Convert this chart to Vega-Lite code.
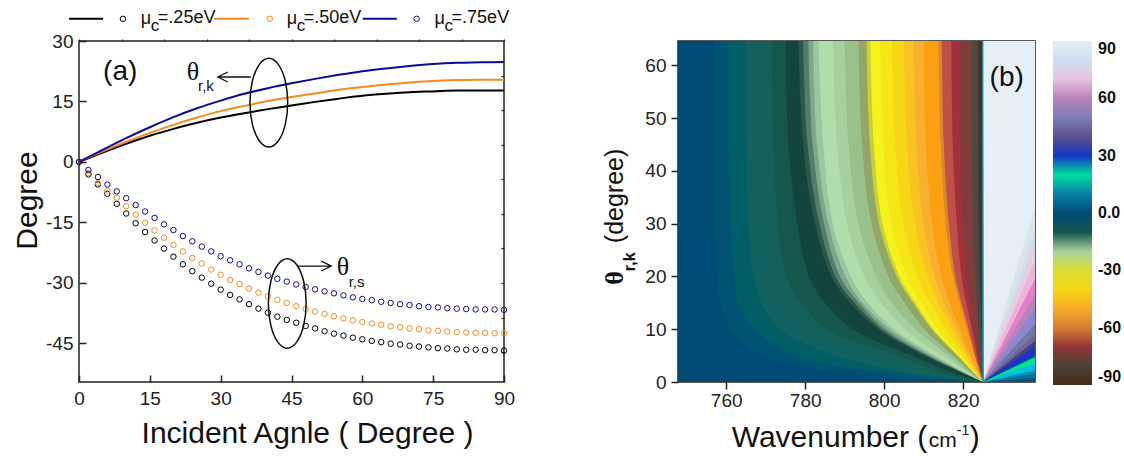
{"$schema":"https://vega.github.io/schema/vega-lite/v6.json","padding":{"left":11,"top":8,"right":0,"bottom":0},"background":"white","config":{"font":"Liberation Sans","view":{"stroke":"#222","strokeWidth":1.5}},"bounds":"flush","spacing":174,
"datasets":{
"lines":[
{"s":"a","x":0,"y":0},{"s":"a","x":5,"y":2.3},{"s":"a","x":10,"y":4.5},{"s":"a","x":15,"y":6.5},{"s":"a","x":20,"y":8.2},{"s":"a","x":25,"y":9.7},{"s":"a","x":30,"y":11},{"s":"a","x":35,"y":12.1},{"s":"a","x":40,"y":13.1},{"s":"a","x":45,"y":14},{"s":"a","x":50,"y":14.9},{"s":"a","x":55,"y":15.7},{"s":"a","x":60,"y":16.4},{"s":"a","x":65,"y":16.9},{"s":"a","x":70,"y":17.3},{"s":"a","x":75,"y":17.5},{"s":"a","x":80,"y":17.7},{"s":"a","x":85,"y":17.7},{"s":"a","x":90,"y":17.7},
{"s":"b","x":0,"y":0},{"s":"b","x":5,"y":2.6},{"s":"b","x":10,"y":5},{"s":"b","x":15,"y":7.2},{"s":"b","x":20,"y":9.2},{"s":"b","x":25,"y":11},{"s":"b","x":30,"y":12.6},{"s":"b","x":35,"y":13.9},{"s":"b","x":40,"y":15.1},{"s":"b","x":45,"y":16.1},{"s":"b","x":50,"y":17},{"s":"b","x":55,"y":17.9},{"s":"b","x":60,"y":18.6},{"s":"b","x":65,"y":19.2},{"s":"b","x":70,"y":19.7},{"s":"b","x":75,"y":20.1},{"s":"b","x":80,"y":20.3},{"s":"b","x":85,"y":20.4},{"s":"b","x":90,"y":20.4},
{"s":"c","x":0,"y":0},{"s":"c","x":5,"y":3},{"s":"c","x":10,"y":5.9},{"s":"c","x":15,"y":8.6},{"s":"c","x":20,"y":11.1},{"s":"c","x":25,"y":13.3},{"s":"c","x":30,"y":15.2},{"s":"c","x":35,"y":16.9},{"s":"c","x":40,"y":18.3},{"s":"c","x":45,"y":19.5},{"s":"c","x":50,"y":20.6},{"s":"c","x":55,"y":21.6},{"s":"c","x":60,"y":22.5},{"s":"c","x":65,"y":23.2},{"s":"c","x":70,"y":23.8},{"s":"c","x":75,"y":24.3},{"s":"c","x":80,"y":24.6},{"s":"c","x":85,"y":24.7},{"s":"c","x":90,"y":24.8}],
"keylines":[{"s":"a","x":-2.1,"y":35.5},{"s":"a","x":5.1,"y":35.5},{"s":"b","x":28.6,"y":35.5},{"s":"b","x":36,"y":35.5},{"s":"c","x":60.1,"y":35.5},{"s":"c","x":67.3,"y":35.5}],
"dots":[
{"s":"a","x":9.3,"y":35.5},{"s":"b","x":40.4,"y":35.5},{"s":"c","x":71.5,"y":35.5},
{"s":"a","x":0,"y":0},{"s":"a","x":2,"y":-3.1},{"s":"a","x":4,"y":-5.6},{"s":"a","x":6,"y":-7.9},{"s":"a","x":8,"y":-10.4},{"s":"a","x":10,"y":-12.8},{"s":"a","x":12,"y":-15.2},{"s":"a","x":14,"y":-17.4},{"s":"a","x":16,"y":-19.5},{"s":"a","x":18,"y":-21.5},{"s":"a","x":20,"y":-23.5},{"s":"a","x":22,"y":-25.4},{"s":"a","x":24,"y":-27.1},{"s":"a","x":26,"y":-28.7},{"s":"a","x":28,"y":-30.2},{"s":"a","x":30,"y":-31.7},{"s":"a","x":32,"y":-33},{"s":"a","x":34,"y":-34.1},{"s":"a","x":36,"y":-35.3},{"s":"a","x":38,"y":-36.4},{"s":"a","x":40,"y":-37.4},{"s":"a","x":42,"y":-38.4},{"s":"a","x":44,"y":-39.2},{"s":"a","x":46,"y":-39.9},{"s":"a","x":48,"y":-40.7},{"s":"a","x":50,"y":-41.3},{"s":"a","x":52,"y":-42},{"s":"a","x":54,"y":-42.6},{"s":"a","x":56,"y":-43.1},{"s":"a","x":58,"y":-43.6},{"s":"a","x":60,"y":-44},{"s":"a","x":62,"y":-44.4},{"s":"a","x":64,"y":-44.7},{"s":"a","x":66,"y":-45.1},{"s":"a","x":68,"y":-45.3},{"s":"a","x":70,"y":-45.6},{"s":"a","x":72,"y":-45.8},{"s":"a","x":74,"y":-46},{"s":"a","x":76,"y":-46.2},{"s":"a","x":78,"y":-46.3},{"s":"a","x":80,"y":-46.5},{"s":"a","x":82,"y":-46.6},{"s":"a","x":84,"y":-46.6},{"s":"a","x":86,"y":-46.7},{"s":"a","x":88,"y":-46.7},{"s":"a","x":90,"y":-46.8},
{"s":"b","x":0,"y":0},{"s":"b","x":2,"y":-2.7},{"s":"b","x":4,"y":-5.2},{"s":"b","x":6,"y":-7.1},{"s":"b","x":8,"y":-8.9},{"s":"b","x":10,"y":-11},{"s":"b","x":12,"y":-13.1},{"s":"b","x":14,"y":-15.1},{"s":"b","x":16,"y":-17},{"s":"b","x":18,"y":-18.8},{"s":"b","x":20,"y":-20.6},{"s":"b","x":22,"y":-22.2},{"s":"b","x":24,"y":-23.8},{"s":"b","x":26,"y":-25.2},{"s":"b","x":28,"y":-26.7},{"s":"b","x":30,"y":-28},{"s":"b","x":32,"y":-29.3},{"s":"b","x":34,"y":-30.3},{"s":"b","x":36,"y":-31.4},{"s":"b","x":38,"y":-32.4},{"s":"b","x":40,"y":-33.4},{"s":"b","x":42,"y":-34.2},{"s":"b","x":44,"y":-35},{"s":"b","x":46,"y":-35.8},{"s":"b","x":48,"y":-36.5},{"s":"b","x":50,"y":-37.1},{"s":"b","x":52,"y":-37.7},{"s":"b","x":54,"y":-38.3},{"s":"b","x":56,"y":-38.8},{"s":"b","x":58,"y":-39.3},{"s":"b","x":60,"y":-39.7},{"s":"b","x":62,"y":-40.1},{"s":"b","x":64,"y":-40.4},{"s":"b","x":66,"y":-40.8},{"s":"b","x":68,"y":-41},{"s":"b","x":70,"y":-41.3},{"s":"b","x":72,"y":-41.5},{"s":"b","x":74,"y":-41.8},{"s":"b","x":76,"y":-41.9},{"s":"b","x":78,"y":-42.1},{"s":"b","x":80,"y":-42.2},{"s":"b","x":82,"y":-42.3},{"s":"b","x":84,"y":-42.4},{"s":"b","x":86,"y":-42.4},{"s":"b","x":88,"y":-42.5},{"s":"b","x":90,"y":-42.5},
{"s":"c","x":0,"y":0},{"s":"c","x":2,"y":-2},{"s":"c","x":4,"y":-3.75},{"s":"c","x":6,"y":-5.6},{"s":"c","x":8,"y":-7.3},{"s":"c","x":10,"y":-9},{"s":"c","x":12,"y":-10.7},{"s":"c","x":14,"y":-12.3},{"s":"c","x":16,"y":-13.9},{"s":"c","x":18,"y":-15.5},{"s":"c","x":20,"y":-16.9},{"s":"c","x":22,"y":-18.4},{"s":"c","x":24,"y":-19.7},{"s":"c","x":26,"y":-21},{"s":"c","x":28,"y":-22.2},{"s":"c","x":30,"y":-23.4},{"s":"c","x":32,"y":-24.4},{"s":"c","x":34,"y":-25.4},{"s":"c","x":36,"y":-26.4},{"s":"c","x":38,"y":-27.3},{"s":"c","x":40,"y":-28.2},{"s":"c","x":42,"y":-29},{"s":"c","x":44,"y":-29.7},{"s":"c","x":46,"y":-30.4},{"s":"c","x":48,"y":-31},{"s":"c","x":50,"y":-31.6},{"s":"c","x":52,"y":-32.1},{"s":"c","x":54,"y":-32.6},{"s":"c","x":56,"y":-33.1},{"s":"c","x":58,"y":-33.6},{"s":"c","x":60,"y":-34},{"s":"c","x":62,"y":-34.3},{"s":"c","x":64,"y":-34.7},{"s":"c","x":66,"y":-35},{"s":"c","x":68,"y":-35.3},{"s":"c","x":70,"y":-35.5},{"s":"c","x":72,"y":-35.8},{"s":"c","x":74,"y":-36},{"s":"c","x":76,"y":-36.1},{"s":"c","x":78,"y":-36.3},{"s":"c","x":80,"y":-36.4},{"s":"c","x":82,"y":-36.5},{"s":"c","x":84,"y":-36.6},{"s":"c","x":86,"y":-36.6},{"s":"c","x":88,"y":-36.6},{"s":"c","x":90,"y":-36.7}],
"shapes":[
{"d":"e1","i":0,"x":44.2,"y":14.7},{"d":"e1","i":1,"x":43.66,"y":20.2},{"d":"e1","i":2,"x":42.2,"y":24.2},{"d":"e1","i":3,"x":40.2,"y":25.7},{"d":"e1","i":4,"x":38.2,"y":24.2},{"d":"e1","i":5,"x":36.74,"y":20.2},{"d":"e1","i":6,"x":36.2,"y":14.7},{"d":"e1","i":7,"x":36.74,"y":9.2},{"d":"e1","i":8,"x":38.2,"y":5.2},{"d":"e1","i":9,"x":40.2,"y":3.7},{"d":"e1","i":10,"x":42.2,"y":5.2},{"d":"e1","i":11,"x":43.66,"y":9.2},
{"d":"e2","i":0,"x":48.1,"y":-35.1},{"d":"e2","i":1,"x":47.56,"y":-29.55},{"d":"e2","i":2,"x":46.1,"y":-25.5},{"d":"e2","i":3,"x":44.1,"y":-24},{"d":"e2","i":4,"x":42.1,"y":-25.5},{"d":"e2","i":5,"x":40.64,"y":-29.55},{"d":"e2","i":6,"x":40.1,"y":-35.1},{"d":"e2","i":7,"x":40.64,"y":-40.65},{"d":"e2","i":8,"x":42.1,"y":-44.7},{"d":"e2","i":9,"x":44.1,"y":-46.2},{"d":"e2","i":10,"x":46.1,"y":-44.7},{"d":"e2","i":11,"x":47.56,"y":-40.65}],
"arrows":[
{"d":"a1","i":0,"x":36.4,"y":21.07},{"d":"a1","i":1,"x":29.4,"y":21.07},{"d":"a1","i":2,"x":31.5,"y":22.3},{"d":"a1","i":3,"x":29.4,"y":21.07},{"d":"a1","i":4,"x":31.5,"y":19.83},
{"d":"a2","i":0,"x":46.2,"y":-25.83},{"d":"a2","i":1,"x":53.4,"y":-25.83},{"d":"a2","i":2,"x":51.3,"y":-24.6},{"d":"a2","i":3,"x":53.4,"y":-25.83},{"d":"a2","i":4,"x":51.3,"y":-27.06}],
"keytext":[{"x":13.1,"y":35.5,"t":"μ"},{"x":16.7,"y":35.7,"t":"=.25eV"},{"x":44,"y":35.5,"t":"μ"},{"x":47.6,"y":35.7,"t":"=.50eV"},{"x":75.3,"y":35.5,"t":"μ"},{"x":78.9,"y":35.7,"t":"=.75eV"}],
"keysub":[{"x":15.2,"y":33.7,"t":"c"},{"x":46.1,"y":33.7,"t":"c"},{"x":77.4,"y":33.7,"t":"c"}],
"theta":[{"x":22.8,"y":22.3,"t":"θ"},{"x":54.6,"y":-26.1,"t":"θ"}],
"thetasub":[{"x":25.2,"y":18.8,"t":"r,k"},{"x":57.1,"y":-29.8,"t":"r,s"}],
"panela":[{"x":5.1,"y":22.3,"t":"(a)"}],
"fan":[
{"v":4,"t":0,"x":838.2},{"v":4,"t":65,"x":838.2},
{"v":8,"t":0,"x":825},{"v":8,"t":0.8,"x":838.2},{"v":8,"t":65,"x":838.2},
{"v":12,"t":0,"x":825},{"v":12,"t":1.6,"x":838.2},{"v":12,"t":65,"x":838.2},
{"v":17,"t":0,"x":825},{"v":17,"t":2.2,"x":838.2},{"v":17,"t":65,"x":838.2},
{"v":19,"t":0,"x":825},{"v":19,"t":3.5,"x":838.2},{"v":19,"t":65,"x":838.2},
{"v":21.5,"t":0,"x":825},{"v":21.5,"t":3.8,"x":838.2},{"v":21.5,"t":65,"x":838.2},
{"v":25,"t":0,"x":825},{"v":25,"t":4.7,"x":838.2},{"v":25,"t":65,"x":838.2},
{"v":30,"t":0,"x":825},{"v":30,"t":5,"x":838.2},{"v":30,"t":65,"x":838.2},
{"v":34,"t":0,"x":825},{"v":34,"t":6,"x":838.2},{"v":34,"t":65,"x":838.2},
{"v":38,"t":0,"x":825},{"v":38,"t":6.8,"x":838.2},{"v":38,"t":65,"x":838.2},
{"v":42,"t":0,"x":825},{"v":42,"t":7.8,"x":838.2},{"v":42,"t":65,"x":838.2},
{"v":47,"t":0,"x":825},{"v":47,"t":9,"x":838.2},{"v":47,"t":65,"x":838.2},
{"v":54,"t":0,"x":825},{"v":54,"t":11,"x":838.2},{"v":54,"t":65,"x":838.2},
{"v":60,"t":0,"x":825},{"v":60,"t":14,"x":838.2},{"v":60,"t":65,"x":838.2},
{"v":63.5,"t":0,"x":825},{"v":63.5,"t":16.5,"x":838.2},{"v":63.5,"t":65,"x":838.2},
{"v":67,"t":0,"x":825},{"v":67,"t":19.5,"x":838.2},{"v":67,"t":65,"x":838.2},
{"v":73,"t":0,"x":825},{"v":73,"t":23,"x":838.2},{"v":73,"t":65,"x":838.2},
{"v":80,"t":0,"x":825},{"v":80,"t":26.5,"x":838.2},{"v":80,"t":65,"x":838.2},
{"v":85,"t":0,"x":825},{"v":85,"t":29,"x":838.2},{"v":85,"t":65,"x":838.2},
{"v":90,"t":0,"x":825},{"v":90,"t":33,"x":838.2},{"v":90,"t":65,"x":838.2}],
"bands":[
{"v":-85,"t":0,"x":825.2},{"v":-85,"t":65,"x":825},
{"v":-78,"t":0,"x":825},{"v":-78,"t":2,"x":824.9},{"v":-78,"t":5,"x":824.8},{"v":-78,"t":10,"x":824.6},{"v":-78,"t":15,"x":824.4},{"v":-78,"t":20,"x":824.2},{"v":-78,"t":30,"x":824},{"v":-78,"t":45,"x":823.9},{"v":-78,"t":65,"x":823.8},
{"v":-73,"t":0,"x":825},{"v":-73,"t":2,"x":824.8},{"v":-73,"t":5,"x":824.4},{"v":-73,"t":10,"x":824},{"v":-73,"t":15,"x":823.5},{"v":-73,"t":20,"x":823.1},{"v":-73,"t":30,"x":822.6},{"v":-73,"t":45,"x":822.2},{"v":-73,"t":65,"x":822.1},
{"v":-68,"t":0,"x":825},{"v":-68,"t":2,"x":824.5},{"v":-68,"t":5,"x":823.9},{"v":-68,"t":10,"x":822.9},{"v":-68,"t":15,"x":821.9},{"v":-68,"t":20,"x":821},{"v":-68,"t":30,"x":820},{"v":-68,"t":45,"x":819.3},{"v":-68,"t":65,"x":819},
{"v":-62,"t":0,"x":825},{"v":-62,"t":2,"x":824.4},{"v":-62,"t":5,"x":823.5},{"v":-62,"t":10,"x":822.2},{"v":-62,"t":15,"x":820.8},{"v":-62,"t":20,"x":819.6},{"v":-62,"t":30,"x":818.4},{"v":-62,"t":45,"x":817.4},{"v":-62,"t":65,"x":817},
{"v":-59.5,"t":0,"x":825},{"v":-59.5,"t":2,"x":824.2},{"v":-59.5,"t":5,"x":823},{"v":-59.5,"t":10,"x":821.4},{"v":-59.5,"t":15,"x":819.6},{"v":-59.5,"t":20,"x":818},{"v":-59.5,"t":30,"x":816.4},{"v":-59.5,"t":45,"x":815.1},{"v":-59.5,"t":65,"x":814.6},
{"v":-54,"t":0,"x":825},{"v":-54,"t":2,"x":824.1},{"v":-54,"t":5,"x":822.9},{"v":-54,"t":10,"x":821},{"v":-54,"t":15,"x":819.1},{"v":-54,"t":20,"x":817.4},{"v":-54,"t":30,"x":815.6},{"v":-54,"t":45,"x":814.3},{"v":-54,"t":65,"x":813.7},
{"v":-48,"t":0,"x":825},{"v":-48,"t":2,"x":823.7},{"v":-48,"t":5,"x":821.9},{"v":-48,"t":10,"x":819.2},{"v":-48,"t":15,"x":816.6},{"v":-48,"t":20,"x":814.5},{"v":-48,"t":30,"x":812.1},{"v":-48,"t":45,"x":810.6},{"v":-48,"t":65,"x":810},
{"v":-44,"t":0,"x":825},{"v":-44,"t":2,"x":823.5},{"v":-44,"t":5,"x":821.4},{"v":-44,"t":10,"x":818.2},{"v":-44,"t":15,"x":815.2},{"v":-44,"t":20,"x":812.8},{"v":-44,"t":30,"x":810},{"v":-44,"t":45,"x":808.2},{"v":-44,"t":65,"x":807.5},
{"v":-40,"t":0,"x":825},{"v":-40,"t":2,"x":823.3},{"v":-40,"t":5,"x":820.9},{"v":-40,"t":10,"x":817.2},{"v":-40,"t":15,"x":813.8},{"v":-40,"t":20,"x":811},{"v":-40,"t":30,"x":807.8},{"v":-40,"t":45,"x":805.8},{"v":-40,"t":65,"x":805},
{"v":-36,"t":0,"x":825},{"v":-36,"t":2,"x":822.9},{"v":-36,"t":5,"x":820.2},{"v":-36,"t":10,"x":815.6},{"v":-36,"t":15,"x":811.7},{"v":-36,"t":20,"x":808.4},{"v":-36,"t":30,"x":804.9},{"v":-36,"t":45,"x":802.8},{"v":-36,"t":65,"x":802},
{"v":-32,"t":0,"x":825},{"v":-32,"t":2,"x":822.7},{"v":-32,"t":5,"x":819.3},{"v":-32,"t":10,"x":813.6},{"v":-32,"t":15,"x":809.4},{"v":-32,"t":20,"x":805.8},{"v":-32,"t":30,"x":801.9},{"v":-32,"t":45,"x":799.8},{"v":-32,"t":65,"x":799},
{"v":-29,"t":0,"x":825},{"v":-29,"t":2,"x":822.4},{"v":-29,"t":5,"x":818.7},{"v":-29,"t":10,"x":812.5},{"v":-29,"t":15,"x":807.9},{"v":-29,"t":20,"x":803.9},{"v":-29,"t":30,"x":799.6},{"v":-29,"t":45,"x":797.4},{"v":-29,"t":65,"x":796.5},
{"v":-26,"t":0,"x":825},{"v":-26,"t":2,"x":822.3},{"v":-26,"t":5,"x":818.5},{"v":-26,"t":10,"x":812},{"v":-26,"t":15,"x":807.3},{"v":-26,"t":20,"x":803.2},{"v":-26,"t":30,"x":798.7},{"v":-26,"t":45,"x":796.4},{"v":-26,"t":65,"x":795.5},
{"v":-22.5,"t":0,"x":825},{"v":-22.5,"t":2,"x":821.9},{"v":-22.5,"t":5,"x":817.4},{"v":-22.5,"t":10,"x":810.2},{"v":-22.5,"t":15,"x":805.2},{"v":-22.5,"t":20,"x":801.1},{"v":-22.5,"t":30,"x":796.8},{"v":-22.5,"t":45,"x":794.4},{"v":-22.5,"t":65,"x":793.5},
{"v":-20,"t":0,"x":825},{"v":-20,"t":2,"x":821.3},{"v":-20,"t":5,"x":816.3},{"v":-20,"t":10,"x":807.9},{"v":-20,"t":15,"x":801.9},{"v":-20,"t":20,"x":798},{"v":-20,"t":30,"x":793.5},{"v":-20,"t":45,"x":791},{"v":-20,"t":65,"x":790},
{"v":-18,"t":0,"x":825},{"v":-18,"t":2,"x":820.8},{"v":-18,"t":5,"x":814.7},{"v":-18,"t":10,"x":805.2},{"v":-18,"t":15,"x":799.2},{"v":-18,"t":20,"x":795},{"v":-18,"t":30,"x":790.6},{"v":-18,"t":45,"x":788.1},{"v":-18,"t":65,"x":787},
{"v":-16.5,"t":0,"x":825},{"v":-16.5,"t":2,"x":820},{"v":-16.5,"t":5,"x":812.9},{"v":-16.5,"t":10,"x":802.5},{"v":-16.5,"t":15,"x":795.8},{"v":-16.5,"t":20,"x":791.6},{"v":-16.5,"t":30,"x":787},{"v":-16.5,"t":45,"x":784.6},{"v":-16.5,"t":65,"x":783.3},
{"v":-15,"t":0,"x":825},{"v":-15,"t":2,"x":819.6},{"v":-15,"t":5,"x":812.1},{"v":-15,"t":10,"x":801.4},{"v":-15,"t":15,"x":794.5},{"v":-15,"t":20,"x":790.2},{"v":-15,"t":30,"x":785.9},{"v":-15,"t":45,"x":783},{"v":-15,"t":65,"x":782},
{"v":-14,"t":0,"x":825},{"v":-14,"t":2,"x":819.3},{"v":-14,"t":5,"x":811.3},{"v":-14,"t":10,"x":800.2},{"v":-14,"t":15,"x":793.6},{"v":-14,"t":20,"x":788.8},{"v":-14,"t":30,"x":784.8},{"v":-14,"t":45,"x":781.9},{"v":-14,"t":65,"x":780.8},
{"v":-13,"t":0,"x":825},{"v":-13,"t":2,"x":819.1},{"v":-13,"t":5,"x":810.7},{"v":-13,"t":10,"x":799.3},{"v":-13,"t":15,"x":792.5},{"v":-13,"t":20,"x":787.7},{"v":-13,"t":30,"x":783.6},{"v":-13,"t":45,"x":780.6},{"v":-13,"t":65,"x":779.5},
{"v":-12,"t":0,"x":825},{"v":-12,"t":2,"x":818.9},{"v":-12,"t":5,"x":810.1},{"v":-12,"t":10,"x":798.4},{"v":-12,"t":15,"x":791.4},{"v":-12,"t":20,"x":786.7},{"v":-12,"t":30,"x":782.5},{"v":-12,"t":45,"x":779.5},{"v":-12,"t":65,"x":778.3},
{"v":-10,"t":0,"x":825},{"v":-10,"t":2,"x":816.5},{"v":-10,"t":5,"x":807},{"v":-10,"t":10,"x":792},{"v":-10,"t":15,"x":785},{"v":-10,"t":20,"x":781},{"v":-10,"t":30,"x":778},{"v":-10,"t":45,"x":775.8},{"v":-10,"t":65,"x":775},
{"v":-7,"t":0,"x":825},{"v":-7,"t":2,"x":813.8},{"v":-7,"t":5,"x":803.6},{"v":-7,"t":10,"x":785.4},{"v":-7,"t":15,"x":779},{"v":-7,"t":20,"x":775.2},{"v":-7,"t":30,"x":773.1},{"v":-7,"t":45,"x":772},{"v":-7,"t":65,"x":771.5},
{"v":-5,"t":0,"x":825},{"v":-5,"t":2,"x":810.2},{"v":-5,"t":5,"x":796.5},{"v":-5,"t":10,"x":779.4},{"v":-5,"t":15,"x":773.7},{"v":-5,"t":20,"x":770.9},{"v":-5,"t":30,"x":769.1},{"v":-5,"t":45,"x":768.6},{"v":-5,"t":65,"x":768},
{"v":-3,"t":0,"x":825},{"v":-3,"t":2,"x":804.5},{"v":-3,"t":5,"x":787.7},{"v":-3,"t":10,"x":773.8},{"v":-3,"t":15,"x":769},{"v":-3,"t":20,"x":766.9},{"v":-3,"t":30,"x":765.7},{"v":-3,"t":45,"x":765.1},{"v":-3,"t":65,"x":764.8},
{"v":-1,"t":0,"x":825},{"v":-1,"t":2,"x":797.9},{"v":-1,"t":5,"x":777.3},{"v":-1,"t":10,"x":767},{"v":-1,"t":15,"x":763.1},{"v":-1,"t":20,"x":762.1},{"v":-1,"t":30,"x":761.1},{"v":-1,"t":45,"x":760.5},{"v":-1,"t":65,"x":760.5},
{"v":0,"t":0,"x":825},{"v":0,"t":2,"x":787.6},{"v":0,"t":5,"x":769.2},{"v":0,"t":10,"x":761.1},{"v":0,"t":15,"x":758.4},{"v":0,"t":20,"x":757.7},{"v":0,"t":30,"x":757},{"v":0,"t":45,"x":757},{"v":0,"t":65,"x":757},
{"v":1,"t":0,"x":825},{"v":1,"t":2,"x":765},{"v":1,"t":5,"x":754},{"v":1,"t":10,"x":751},{"v":1,"t":15,"x":750.5},{"v":1,"t":20,"x":750},{"v":1,"t":30,"x":750},{"v":1,"t":45,"x":750},{"v":1,"t":65,"x":750}],
"seam":[{"v":15,"t":0,"x":825.15},{"v":15,"t":65,"x":825.15}],
"rtitle1":[{"x":761.4,"y":-10.6,"t":"Wavenumber ("},{"x":821.7,"y":-10.6,"t":")"}],
"rtitle2":[{"x":818.4,"y":-9.3,"t":"-1"}],
"rtitle3":[{"x":811.3,"y":-11.2,"t":"cm"}],
"panelb":[{"x":826.7,"y":57.6,"t":"(b)"}],
"ytheta":[{"x":731.8,"y":18.4,"t":"θ"}],
"ysub":[{"x":735.6,"y":21,"t":"r,k"}],
"ydeg":[{"x":731.8,"y":26.3,"t":"(degree)"}]
},
"hconcat":[
{"width":425,"height":341,"resolve":{"axis":{"x":"independent","y":"independent"}},
"layer":[
{"data":{"name":"lines"},"mark":{"type":"line","interpolate":"monotone","strokeWidth":2},"encoding":{
"x":{"field":"x","type":"quantitative","scale":{"domain":[0,90],"nice":false},"axis":{"values":[0,15,30,45,60,75,90],"grid":false,"title":"Incident Agnle ( Degree )","titleFontSize":30,"titleFontWeight":"normal","titleColor":"#111","titlePadding":10,"titleX":228,"labelFontSize":19,"labelColor":"#222","labelPadding":14,"labelFlush":false,"labelBound":false,"tickSize":-7,"tickColor":"#222","tickWidth":1.5,"domain":false}},
"y":{"field":"y","type":"quantitative","scale":{"domain":[-54.6,30],"nice":false},"axis":{"values":[-45,-30,-15,0,15,30],"grid":false,"title":"Degree","titleFontSize":30,"titleFontWeight":"normal","titleColor":"#111","titlePadding":3,"titleY":159,"labelExpr":"''+datum.value","labelFontSize":19,"labelColor":"#222","labelPadding":13,"labelFlush":false,"labelBound":false,"tickSize":-7,"tickColor":"#222","tickWidth":1.5,"domain":false}},
"color":{"field":"s","type":"nominal","scale":{"domain":["a","b","c"],"range":["#000000","#f98a1c","#0b0b96"]},"legend":null}}},
{"data":{"name":"keylines"},"mark":{"type":"line","strokeWidth":2},"encoding":{"x":{"field":"x","type":"quantitative","axis":null},"y":{"field":"y","type":"quantitative","axis":null},"color":{"field":"s","type":"nominal","legend":null}}},
{"data":{"name":"dots"},"mark":{"type":"point","filled":false,"size":30,"strokeWidth":1,"opacity":1},"encoding":{"x":{"field":"x","type":"quantitative","axis":null},"y":{"field":"y","type":"quantitative","axis":null},"color":{"field":"s","type":"nominal","legend":null}}},
{"data":{"name":"shapes"},"mark":{"type":"line","interpolate":"cardinal-closed","color":"#111","strokeWidth":1.5},"encoding":{"x":{"field":"x","type":"quantitative","axis":null},"y":{"field":"y","type":"quantitative","axis":null},"detail":{"field":"d"},"order":{"field":"i"}}},
{"data":{"name":"arrows"},"mark":{"type":"line","color":"#111","strokeWidth":1.3},"encoding":{"x":{"field":"x","type":"quantitative","axis":null},"y":{"field":"y","type":"quantitative","axis":null},"detail":{"field":"d"},"order":{"field":"i"}}},
{"data":{"name":"keytext"},"mark":{"type":"text","align":"left","baseline":"middle","fontSize":18,"color":"#111"},"encoding":{"x":{"field":"x","type":"quantitative","axis":null},"y":{"field":"y","type":"quantitative","axis":null},"text":{"field":"t"}}},
{"data":{"name":"keysub"},"mark":{"type":"text","align":"left","baseline":"middle","fontSize":17,"color":"#111"},"encoding":{"x":{"field":"x","type":"quantitative","axis":null},"y":{"field":"y","type":"quantitative","axis":null},"text":{"field":"t"}}},
{"data":{"name":"theta"},"mark":{"type":"text","align":"left","baseline":"middle","fontSize":26,"font":"Liberation Serif","color":"#111"},"encoding":{"x":{"field":"x","type":"quantitative","axis":null},"y":{"field":"y","type":"quantitative","axis":null},"text":{"field":"t"}}},
{"data":{"name":"thetasub"},"mark":{"type":"text","align":"left","baseline":"middle","fontSize":15,"color":"#111"},"encoding":{"x":{"field":"x","type":"quantitative","axis":null},"y":{"field":"y","type":"quantitative","axis":null},"text":{"field":"t"}}},
{"data":{"name":"panela"},"mark":{"type":"text","align":"left","baseline":"middle","fontSize":28,"color":"#111"},"encoding":{"x":{"field":"x","type":"quantitative","axis":{"orient":"top","values":[0,9,18,27,36,45,54,63,72,81,90],"grid":false,"labels":false,"title":null,"domain":false,"tickSize":2,"tickColor":"#222","tickWidth":1.2}},"y":{"field":"y","type":"quantitative","axis":{"orient":"right","values":[21.4,12.9,4.3,-4.3,-12.9,-21.4,-30,-38.6,-47.1],"grid":false,"labels":false,"title":null,"domain":false,"tickSize":-3,"tickColor":"#222","tickWidth":1.2}},"text":{"field":"t"}}}
]},
{"width":357,"height":341,
"layer":[
{"data":{"name":"fan"},"mark":{"type":"area","orient":"horizontal","clip":true},"encoding":{
"x":{"field":"x","type":"quantitative","scale":{"domain":[747.8,838.2],"nice":false,"zero":false},"axis":{"values":[760,780,800,820],"grid":false,"title":null,"labelFontSize":19,"labelColor":"#222","labelPadding":2,"tickSize":7,"tickColor":"#222","tickWidth":1.5,"domain":false}},
"x2":{"datum":825},
"y":{"field":"t","type":"quantitative","scale":{"domain":[0,64.6],"nice":false},"axis":{"values":[0,10,20,30,40,50,60],"grid":false,"title":null,"labelFontSize":19,"labelColor":"#222","labelPadding":5,"tickSize":7,"tickColor":"#222","tickWidth":1.5,"domain":false}},
"detail":{"field":"v","type":"nominal"},
"color":{"field":"v","type":"quantitative","scale":{"type":"linear","domain":[-90,-83.8,-77.8,-73.3,-68,-62,-59.5,-54.3,-48,-40.3,-31.5,-28,-25.5,-22,-17.6,-15,-12.4,-9,-3.6,0,1.5,6.8,12,17,19,21.5,24.6,26,29,34,37.5,42,47,54,60,63.5,67,73,80,85,90],"range":["#4a2a1c","#4e3224","#4c4a44","#7e3c3a","#a0303a","#be5048","#d88a2a","#fb9f10","#f8b030","#f5d615","#f5f51e","#b8c040","#8aa070","#9cc591","#b2e0ad","#7fa58a","#13423a","#155f55","#116262","#004c76","#024b75","#05688f","#0a90b8","#00bfe0","#00d8a8","#00e68a","#0a7a7a","#0f3a9a","#1234c8","#1b37c0","#4a3a7a","#6a6699","#7277a8","#8f86cd","#b884b8","#e57fc8","#ebb5d8","#e6cfe3","#cfdff0","#dbe5e6","#e6eef6"]},"legend":{"orient":"none","legendX":375,"legendY":0,"title":null,"type":"gradient","gradientLength":344,"gradientThickness":39,"values":[-90,-60,-30,0,30,60,90],"labelExpr":"datum.value===0?'0.0':''+datum.value","labelFontSize":16,"labelFontWeight":"bold","labelColor":"#111","labelOffset":6,"encoding":{"labels":{"update":{"baseline":{"value":"middle"}}}}}}}},
{"data":{"name":"bands"},"mark":{"type":"area","orient":"horizontal","clip":true,"interpolate":"catmull-rom"},"encoding":{"x":{"field":"x","type":"quantitative"},"x2":{"datum":747.8},"y":{"field":"t","type":"quantitative"},"detail":{"field":"v","type":"nominal"},"color":{"field":"v","type":"quantitative"}}},
{"data":{"name":"seam"},"mark":{"type":"area","orient":"horizontal","clip":true},"encoding":{"x":{"field":"x","type":"quantitative"},"x2":{"datum":824.85},"y":{"field":"t","type":"quantitative"},"color":{"field":"v","type":"quantitative"}}},
{"data":{"name":"rtitle1"},"mark":{"type":"text","align":"left","baseline":"middle","fontSize":30,"color":"#111"},"encoding":{"x":{"field":"x","type":"quantitative"},"y":{"field":"y","type":"quantitative"},"text":{"field":"t"}}},
{"data":{"name":"rtitle2"},"mark":{"type":"text","align":"left","baseline":"middle","fontSize":14,"color":"#111"},"encoding":{"x":{"field":"x","type":"quantitative"},"y":{"field":"y","type":"quantitative"},"text":{"field":"t"}}},
{"data":{"name":"rtitle3"},"mark":{"type":"text","align":"left","baseline":"middle","fontSize":21,"color":"#111"},"encoding":{"x":{"field":"x","type":"quantitative"},"y":{"field":"y","type":"quantitative"},"text":{"field":"t"}}},
{"data":{"name":"panelb"},"mark":{"type":"text","align":"left","baseline":"middle","fontSize":28,"color":"#111"},"encoding":{"x":{"field":"x","type":"quantitative"},"y":{"field":"y","type":"quantitative"},"text":{"field":"t"}}},
{"data":{"name":"ytheta"},"mark":{"type":"text","align":"left","baseline":"middle","angle":270,"fontSize":26,"font":"Liberation Serif","fontWeight":"bold","color":"#111"},"encoding":{"x":{"field":"x","type":"quantitative"},"y":{"field":"y","type":"quantitative"},"text":{"field":"t"}}},
{"data":{"name":"ysub"},"mark":{"type":"text","align":"left","baseline":"middle","angle":270,"fontSize":16,"fontWeight":"bold","color":"#111"},"encoding":{"x":{"field":"x","type":"quantitative"},"y":{"field":"y","type":"quantitative"},"text":{"field":"t"}}},
{"data":{"name":"ydeg"},"mark":{"type":"text","align":"left","baseline":"middle","angle":270,"fontSize":25,"color":"#111"},"encoding":{"x":{"field":"x","type":"quantitative"},"y":{"field":"y","type":"quantitative"},"text":{"field":"t"}}}
]}
]}
